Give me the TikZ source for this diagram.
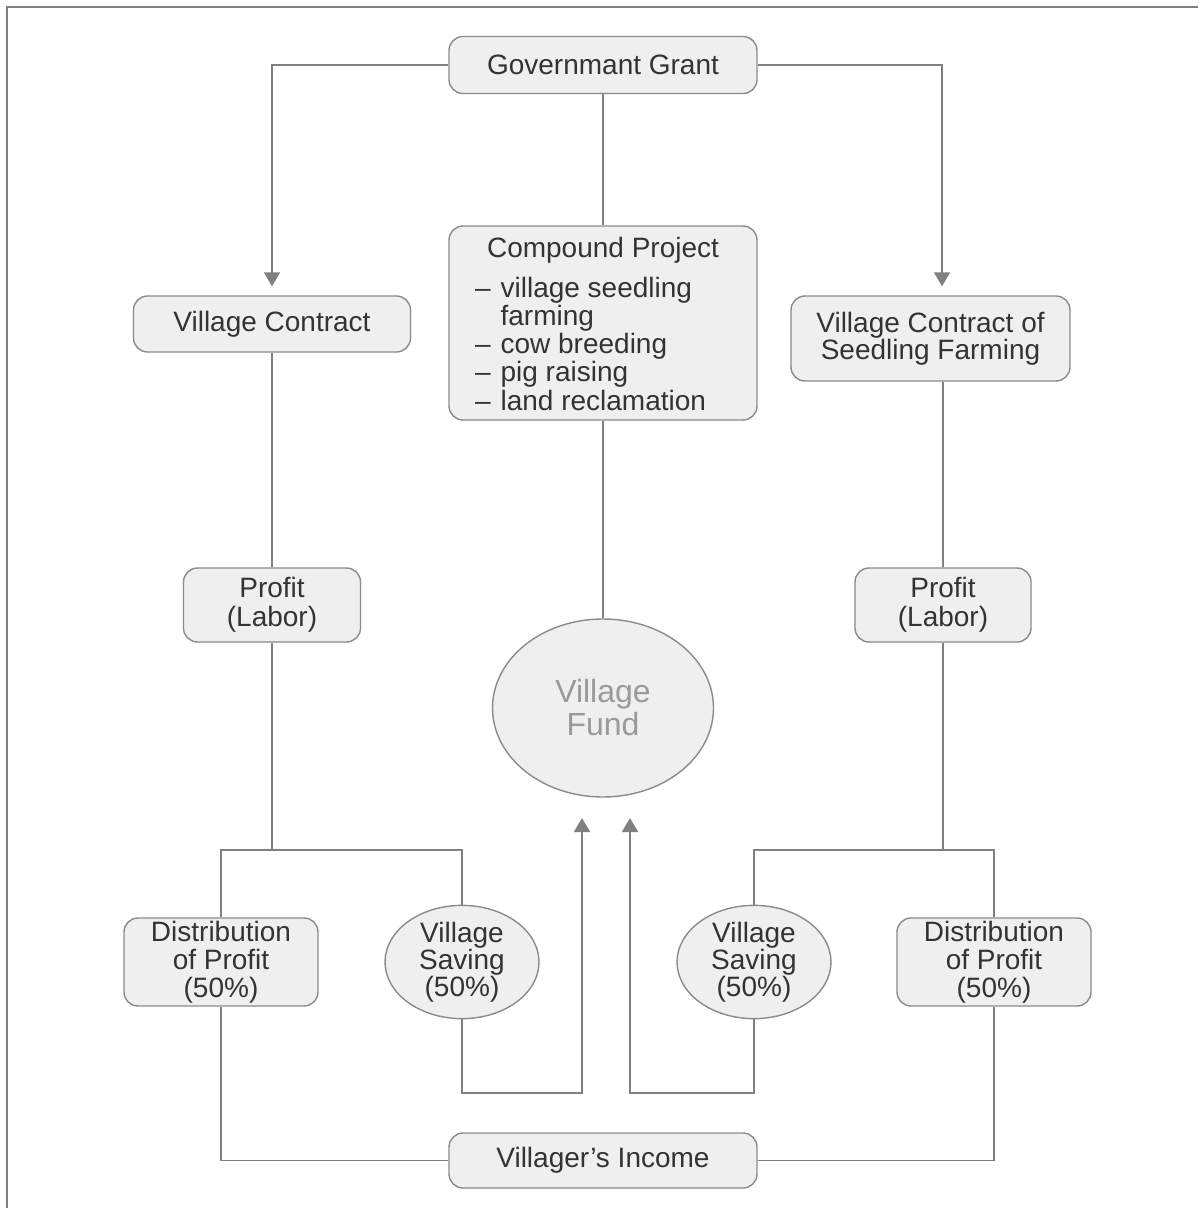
\documentclass[tikz,border=0pt]{standalone}
\usepackage{fontspec}
\setmainfont{Liberation Sans}
\usetikzlibrary{arrows.meta,shapes.geometric}
\definecolor{boxfill}{HTML}{EFEFEF}
\definecolor{boxline}{HTML}{8A8A8A}
\definecolor{wirecol}{HTML}{808080}
\definecolor{txt}{HTML}{333333}
\definecolor{fundtxt}{HTML}{9A9A9A}
\begin{document}
\begin{tikzpicture}[x=0.5pt,y=-0.5pt,
  box/.style={draw=boxline, fill=boxfill, line width=0.7pt, rounded corners=7pt,
    align=center, text=txt, font=\fontsize{14}{14}\selectfont, inner sep=0pt},
  oval/.style={ellipse, draw=boxline, fill=boxfill, line width=0.7pt,
    align=center, text=txt, font=\fontsize{14}{13.5}\selectfont, inner sep=0pt},
  wire/.style={draw=wirecol, line width=0.9pt},
  arr/.style={wire, -{Triangle[length=7pt,width=8pt]}},
  frame/.style={draw=wirecol, line width=1pt}]
\useasboundingbox (0,0) rectangle (1198,1208);
\draw[frame] (6.5,1208) -- (6.5,7.5) -- (1198,7.5);

% nodes
\node[box, minimum width=154pt, minimum height=28.5pt] (gg) at (603,65) {Governmant Grant};
\node[box, minimum width=138.5pt, minimum height=28pt] (vc) at (272,324) {Village Contract};
\node[box, minimum width=139.5pt, minimum height=42.5pt, font=\fontsize{14}{13.5}\selectfont] (vcs) at (930.5,338.5) {Village Contract of\\Seedling Farming};
\node[box, minimum width=154pt, minimum height=97pt, font=\fontsize{14}{13.5}\selectfont] (cp) at (603,323)
  {\raisebox{-2.3pt}[\height][\depth]{\renewcommand{\arraystretch}{0.96}%
   \begin{tabular}{@{}l@{\hspace{5pt}}l@{}}
   \multicolumn{2}{c}{Compound Project}\\[6pt]
   -- & village seedling\\
      & farming\\
   -- & cow breeding\\
   -- & pig raising\\
   -- & land reclamation
   \end{tabular}}};
\node[oval, minimum width=110.5pt, minimum height=89pt, text=fundtxt, font=\fontsize{16}{16.5}\selectfont] (vf) at (603,708) {Village\\Fund};
\node[box, minimum width=88.5pt, minimum height=37pt, font=\fontsize{14}{14.5}\selectfont] (pl) at (272,605) {Profit\\(Labor)};
\node[box, minimum width=88pt, minimum height=37pt, font=\fontsize{14}{14.5}\selectfont] (pr) at (943,605) {Profit\\(Labor)};
\node[box, minimum width=97pt, minimum height=44pt] (dl) at (221,962) {Distribution\\of Profit\\(50\%)};
\node[oval, minimum width=77pt, minimum height=56pt] (vsl) at (462,962) {Village\\Saving\\(50\%)};
\node[oval, minimum width=77pt, minimum height=56pt] (vsr) at (754,962) {Village\\Saving\\(50\%)};
\node[box, minimum width=97pt, minimum height=44pt] (dr) at (994,962) {Distribution\\of Profit\\(50\%)};
\node[box, minimum width=154pt, minimum height=27.5pt] (vi) at (603,1160.5) {Villager's Income};

\coordinate (jl) at (272,850);
\coordinate (jr) at (943,850);
\coordinate (al) at (582,818);
\coordinate (ar) at (630,818);

% connectors
\draw[arr, shorten >=4.5pt] (gg.west) -| (vc.north);
\draw[arr, shorten >=4.5pt] (gg.east) -| ([xshift=5.75pt]vcs.north);
\draw[wire] (gg.south) -- (cp.north);
\draw[wire] (cp.south) -- (vf.north);
\draw[wire] (vc.south) -- (pl.north);
\draw[wire] (vcs.south -| pr.north) -- (pr.north);
\draw[wire] (pl.south) -- (jl);
\draw[wire] (pr.south) -- (jr);
\draw[wire] (dl.north) -- (dl.north |- jl) -- (vsl.north |- jl) -- (vsl.north);
\draw[wire] (vsr.north) -- (vsr.north |- jr) -- (dr.north |- jr) -- (dr.north);
\draw[arr] (vsl.south) -- ++(0,74) -| (al);
\draw[arr] (vsr.south) -- ++(0,74) -| (ar);
\draw[wire] (dl.south) |- (vi.west);
\draw[wire] (dr.south) |- (vi.east);
\end{tikzpicture}
\end{document}
